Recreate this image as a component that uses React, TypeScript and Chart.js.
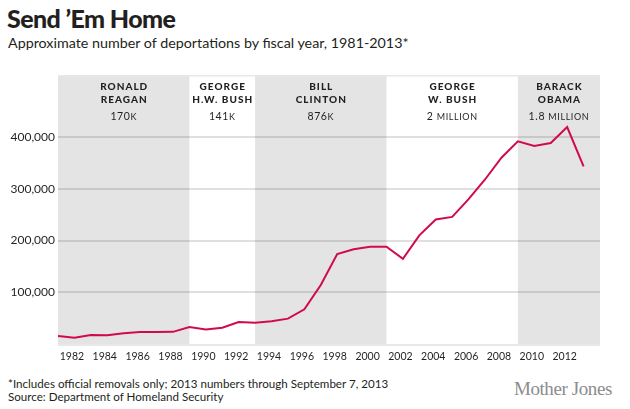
import React, { useEffect, useRef } from "react";
import { Chart, registerables } from "chart.js";
Chart.register(...registerables);

const years = [
  1981, 1982, 1983, 1984, 1985, 1986, 1987, 1988, 1989, 1990, 1991,
  1992, 1993, 1994, 1995, 1996, 1997, 1998, 1999, 2000, 2001, 2002,
  2003, 2004, 2005, 2006, 2007, 2008, 2009, 2010, 2011, 2012, 2013,
];
const deportations = [
  15400, 12200, 17400, 16700, 21000, 23000, 23000, 23500, 32800, 28000, 31500,
  42500, 41000, 44000, 49000, 67000, 114000, 173700, 183000, 188000, 188000, 164600,
  210000, 240600, 245700, 280000, 318000, 360000, 391800, 382700, 388500, 419400, 343500,
];
const xTickYears = [1982, 1984, 1986, 1988, 1990, 1992, 1994, 1996, 1998, 2000, 2002, 2004, 2006, 2008, 2010, 2012];
const yTickValues = [100000, 200000, 300000, 400000];

const presidentNames = [
  ["RONALD", "REAGAN"],
  ["GEORGE", "H.W. BUSH"],
  ["BILL", "CLINTON"],
  ["GEORGE", "W. BUSH"],
  ["BARACK", "OBAMA"],
];
const termStarts = [1981, 1989, 1993, 2001, 2009];
const termEnds = [1989, 1993, 2001, 2009, 2014];
const termTotalNumbers = ["170", "141", "876", "2 ", "1.8 "];
const termTotalUnits = ["K", "K", "K", "MILLION", "MILLION"];
const termShaded = [true, false, true, false, true];

const TEXT = "#231f20";
const BAND = "#e4e4e4";
const LINE = "#d10a4f";

const bandsPlugin = {
  id: "bands",
  beforeDraw(chart: any) {
    const { ctx, chartArea } = chart;
    const xs = chart.scales.x;
    const { top, bottom, left, right } = chartArea;
    ctx.save();
    termStarts.forEach((s, i) => {
      const x0 = xs.getPixelForValue(s);
      const x1 = xs.getPixelForValue(termEnds[i]);
      if (termShaded[i]) {
        ctx.fillStyle = BAND;
        ctx.fillRect(x0, top, x1 - x0, bottom - top);
      }
    });
    ctx.fillStyle = "#e8e8e8";
    ctx.fillRect(left, top, right - left, 1.5);
    ctx.fillRect(left, bottom, right - left, 2);

    ctx.fillStyle = TEXT;
    ctx.textBaseline = "middle";
    termStarts.forEach((s, i) => {
      const x0 = xs.getPixelForValue(s);
      const x1 = xs.getPixelForValue(termEnds[i]);
      const cx = (x0 + x1) / 2;
      ctx.font = "900 10px Lato";
      (ctx as any).letterSpacing = "1px";
      ctx.textAlign = "center";
      ctx.fillText(presidentNames[i][0], cx + 0.5, top + 12);
      ctx.fillText(presidentNames[i][1], cx + 0.5, top + 25);
      (ctx as any).letterSpacing = "0.6px";
      ctx.textAlign = "left";
      ctx.font = "10.5px Lato";
      const w1 = ctx.measureText(termTotalNumbers[i]).width;
      ctx.font = "9px Lato";
      const w2 = ctx.measureText(termTotalUnits[i]).width;
      const sx = cx - (w1 + w2) / 2;
      ctx.font = "10.5px Lato";
      ctx.fillText(termTotalNumbers[i], sx, top + 42);
      ctx.font = "9px Lato";
      ctx.fillText(termTotalUnits[i], sx + w1, top + 42.5);
    });
    (ctx as any).letterSpacing = "0px";
    ctx.restore();
  },
};

export default function App() {
  const canvasRef = useRef<HTMLCanvasElement | null>(null);

  useEffect(() => {
    const canvas = canvasRef.current;
    if (!canvas) return;
    const chart = new Chart(canvas, {
      type: "line",
      data: {
        datasets: [
          {
            data: years.map((y, i) => ({ x: y, y: deportations[i] })),
            borderColor: LINE,
            borderWidth: 2,
            pointRadius: 0,
            tension: 0,
            fill: false,
          },
        ],
      },
      options: {
        animation: false,
        responsive: false,
        maintainAspectRatio: false,
        layout: { padding: { top: 15, right: 30, left: 0, bottom: 0 } },
        plugins: {
          legend: { display: false },
          tooltip: { enabled: false },
          title: { display: false },
        },
        scales: {
          x: {
            type: "linear",
            min: 1981,
            max: 2014,
            afterBuildTicks: (scale: any) => {
              scale.ticks = xTickYears.map((v) => ({ value: v }));
            },
            afterFit: (scale: any) => {
              scale.height = 26;
            },
            grid: { display: false, drawTicks: false },
            border: { display: false },
            ticks: {
              autoSkip: false,
              maxRotation: 0,
              padding: 6,
              labelOffset: -2.5,
              color: TEXT,
              font: { family: "Lato", size: 10.5 },
              callback: (v: any) => String(v),
            },
          },
          y: {
            type: "linear",
            min: 0,
            max: 520000,
            afterBuildTicks: (scale: any) => {
              scale.ticks = yTickValues.map((v) => ({ value: v }));
            },
            afterFit: (scale: any) => {
              scale.width = 58;
            },
            grid: {
              color: "rgba(0,0,0,0.12)",
              lineWidth: 2,
              drawTicks: false,
            },
            border: { display: false },
            ticks: {
              padding: 3,
              color: TEXT,
              font: { family: "Lato", size: 12 },
              callback: (v: any) => Number(v).toLocaleString("en-US"),
            },
          },
        },
      },
      plugins: [bandsPlugin],
    });
    return () => chart.destroy();
  }, []);

  return (
    <div
      style={{
        position: "fixed",
        left: 0,
        top: 0,
        width: 630,
        height: 409,
        background: "#fff",
        fontFamily: "Lato, sans-serif",
        color: TEXT,
        overflow: "hidden",
      }}
    >
      <div
        style={{
          position: "absolute",
          left: 7,
          top: 5.5,
          fontSize: 25,
          lineHeight: "25px",
          fontWeight: 900,
          letterSpacing: "-0.6px",
          whiteSpace: "nowrap",
        }}
      >
        Send ’Em Home
      </div>
      <div
        style={{
          position: "absolute",
          left: 8,
          top: 35.8,
          fontSize: 14.3,
          lineHeight: "14px",
          whiteSpace: "nowrap",
        }}
      >
        Approximate number of deportations by fiscal year, 1981-2013*
      </div>
      <canvas
        ref={canvasRef}
        width={630}
        height={310}
        style={{ position: "absolute", left: 0, top: 60, width: 630, height: 310 }}
      />
      <div
        style={{
          position: "absolute",
          left: 8,
          top: 378.2,
          fontSize: 11.6,
          lineHeight: "12.7px",
          whiteSpace: "nowrap",
        }}
      >
        *Includes official removals only; 2013 numbers through September 7, 2013
        <br />
        Source: Department of Homeland Security
      </div>
      <div
        style={{
          position: "absolute",
          right: 18,
          top: 378.5,
          fontSize: 19,
          lineHeight: "19px",
          fontFamily: "'Liberation Serif', serif",
          color: "#8c8c8c",
          letterSpacing: "-0.4px",
          whiteSpace: "nowrap",
        }}
      >
        Mother Jones
      </div>
    </div>
  );
}
